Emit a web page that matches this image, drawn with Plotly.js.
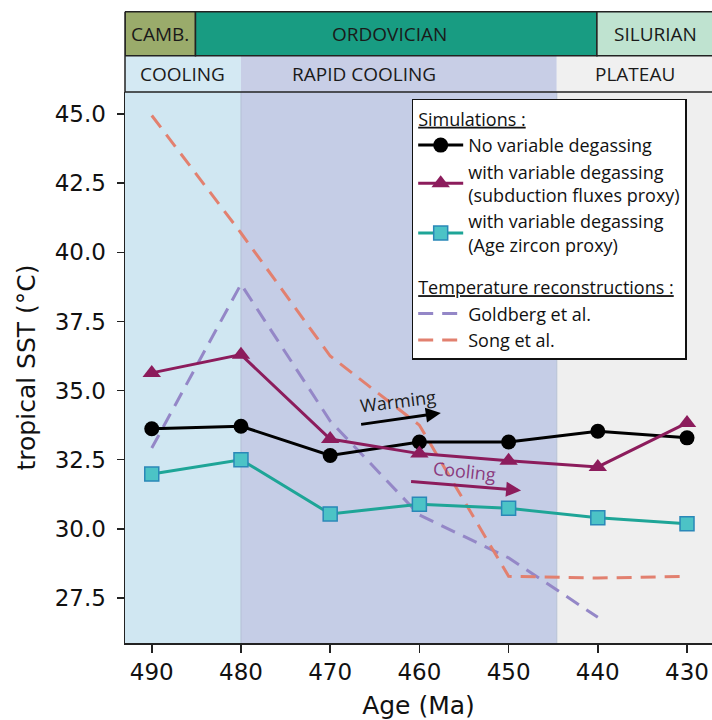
<!DOCTYPE html>
<html>
<head>
<meta charset="utf-8">
<script src="https://cdn.plot.ly/plotly-3.0.1.min.js"></script>
<style>
html,body{margin:0;padding:0;background:#fff;}
#chart{width:712px;height:720px;}
</style>
</head>
<body>
<div id="chart"></div>
<script>
// ---- data ----
const ages = [490, 480, 470, 460, 450, 440, 430];
const noDegassing = [33.62, 33.71, 32.65, 33.14, 33.14, 33.53, 33.29];
const subductionProxy = [35.64, 36.30, 33.25, 32.72, 32.46, 32.24, 33.83];
const zirconProxy = [31.98, 32.50, 30.54, 30.89, 30.74, 30.40, 30.18];
const goldbergAges = [490, 480, 470, 460, 450, 440];
const goldbergSST = [32.92, 38.85, 33.90, 30.50, 28.95, 26.80];
const songAges = [490, 480, 470, 460, 450, 440, 430];
const songSST = [44.95, 40.70, 36.25, 33.75, 28.28, 28.22, 28.28];

const yTicks = [27.5, 30.0, 32.5, 35.0, 37.5, 40.0, 42.5, 45.0];
const xTicks = [490, 480, 470, 460, 450, 440, 430];

const periodNames = ['CAMB.', 'ORDOVICIAN', 'SILURIAN'];
const periodStart = [493.0, 485.1, 440.1];
const periodEnd = [485.1, 440.1, 420.0];
const phaseNames = ['COOLING', 'RAPID COOLING', 'PLATEAU'];
const phaseStart = [493.0, 480.0, 444.6];
const phaseEnd = [480.0, 444.6, 420.0];

// ---- styles ----
const X_RANGE = [493.0, 427.2];
const Y_RANGE = [25.87, 45.80];
const periodFill = ['#9aab6b', '#189c82', '#bfe3d0'];
const phaseBandFill = ['#d4e9f3', '#c8cee6', '#f0f0f0'];
const phasePlotFill = ['#d0e7f2', '#c5cde6', '#efefef'];
const periodLabelX = [489.1, 463.4, 433.5];
const phaseLabelX = [486.6, 466.2, 435.8];

const MAG = '#8c1c5c';
const TEAL = '#1ea597';
const labFont = 'Open Sans, Lato, sans-serif';
const axFont = 'DejaVu Sans, sans-serif';

const traces = [
  {
    x: goldbergAges, y: goldbergSST, type: 'scatter', mode: 'lines',
    name: 'Goldberg et al.', legendgroup: 'rec', legendrank: 4,
    legendgrouptitle: {text: '<u>Temperature reconstructions :</u>'},
    line: {color: '#9487c7', width: 3, dash: '15px,9px'}
  },
  {
    x: songAges, y: songSST, type: 'scatter', mode: 'lines',
    name: 'Song et al.', legendgroup: 'rec', legendrank: 5,
    line: {color: '#e2806f', width: 3, dash: '15px,9px'}
  },
  {
    x: ages, y: noDegassing, type: 'scatter', mode: 'lines+markers',
    name: 'No variable degassing', legendgroup: 'sim', legendrank: 1,
    legendgrouptitle: {text: '<u>Simulations :</u>'},
    line: {color: '#000000', width: 3},
    marker: {symbol: 'circle', size: 15, color: '#000000'}
  },
  {
    x: ages, y: subductionProxy, type: 'scatter', mode: 'lines+markers',
    name: 'with variable degassing<br>(subduction fluxes proxy)', legendgroup: 'sim', legendrank: 2,
    line: {color: MAG, width: 3},
    marker: {symbol: 'triangle-up', size: 16, color: MAG}
  },
  {
    x: ages, y: zirconProxy, type: 'scatter', mode: 'lines+markers',
    name: 'with variable degassing<br>(Age zircon proxy)', legendgroup: 'sim', legendrank: 3,
    line: {color: TEAL, width: 3},
    marker: {symbol: 'square', size: 14, color: '#4cc3c6', line: {color: '#2a88b8', width: 1.5}}
  }
];

const shapes = [];
const annotations = [];

// plot-area background regions
phaseNames.forEach((n, i) => {
  shapes.push({type: 'rect', xref: 'x', yref: 'paper', x0: phaseStart[i], x1: phaseEnd[i], y0: 0, y1: 1,
    fillcolor: phasePlotFill[i], line: {width: 0}, layer: 'below'});
});
[480.0, 444.6].forEach(v => {
  shapes.push({type: 'line', xref: 'x', yref: 'paper', x0: v, x1: v, y0: 0, y1: 1,
    line: {color: '#b4c0d4', width: 1}, layer: 'below'});
});
// phase band (above plot)
phaseNames.forEach((n, i) => {
  shapes.push({type: 'rect', xref: 'x', yref: 'paper', x0: phaseStart[i], x1: phaseEnd[i], y0: 1.0, y1: 1.0659,
    fillcolor: phaseBandFill[i], line: {width: 0}});
  annotations.push({xref: 'x', yref: 'paper', x: phaseLabelX[i], y: 1.0332, text: n, showarrow: false,
    font: {family: labFont, size: 19, color: '#1a1a1a'}, xanchor: 'center', yanchor: 'middle'});
});
// period band
periodNames.forEach((n, i) => {
  shapes.push({type: 'rect', xref: 'x', yref: 'paper', x0: periodStart[i], x1: periodEnd[i], y0: 1.0659, y1: 1.1457,
    fillcolor: periodFill[i], line: {color: '#222', width: 1.5}});
  annotations.push({xref: 'x', yref: 'paper', x: periodLabelX[i], y: 1.1058, text: n, showarrow: false,
    font: {family: labFont, size: 19, color: '#1a1a1a'}, xanchor: 'center', yanchor: 'middle'});
});
shapes.push({type: 'line', xref: 'paper', yref: 'paper', x0: 0, x1: 1, y0: 1, y1: 1, line: {color: '#222', width: 1.5}});
shapes.push({type: 'line', xref: 'paper', yref: 'paper', x0: 0, x1: 0, y0: 1, y1: 1.1457, line: {color: '#222', width: 1.5}});

// Warming / Cooling arrows
annotations.push({xref: 'x', yref: 'y', axref: 'x', ayref: 'y', x: 457.6, y: 34.19, ax: 466.7, ay: 33.77,
  text: '', showarrow: true, arrowhead: 2, arrowsize: 1, arrowwidth: 3, arrowcolor: '#000', standoff: 0});
annotations.push({xref: 'x', yref: 'y', x: 462.45, y: 34.61, text: 'Warming', showarrow: false, textangle: -7,
  font: {family: labFont, size: 18, color: '#1a1a1a'}});
annotations.push({xref: 'x', yref: 'y', axref: 'x', ayref: 'y', x: 448.6, y: 31.39, ax: 461.1, ay: 31.72,
  text: '', showarrow: true, arrowhead: 2, arrowsize: 1, arrowwidth: 3, arrowcolor: MAG, standoff: 0});
annotations.push({xref: 'x', yref: 'y', x: 454.9, y: 32.08, text: 'Cooling', showarrow: false, textangle: 6,
  font: {family: labFont, size: 18, color: '#8a3a7e'}});

const layout = {
  width: 712, height: 720,
  margin: {l: 125, r: 0, t: 92, b: 77, pad: 0},
  paper_bgcolor: '#ffffff',
  plot_bgcolor: '#ffffff',
  showlegend: true,
  legend: {
    x: 0.4884, y: 0.9873, xanchor: 'left', yanchor: 'top',
    bgcolor: '#ffffff', bordercolor: '#111', borderwidth: 1.5,
    font: {family: labFont, size: 18, color: '#111'},
    grouptitlefont: {family: labFont, size: 18, color: '#111'},
    traceorder: 'grouped', tracegroupgap: 16, itemwidth: 45
  },
  xaxis: {
    range: X_RANGE, tickvals: xTicks, ticktext: xTicks.map(String),
    showgrid: false, zeroline: false, showline: true, linecolor: '#222', linewidth: 1.5,
    ticks: 'outside', ticklen: 8, tickwidth: 1.5, tickcolor: '#222',
    tickfont: {family: axFont, size: 23, color: '#111'},
    title: {text: 'Age (Ma)', font: {family: axFont, size: 25, color: '#111'}, standoff: 12}
  },
  yaxis: {
    range: Y_RANGE, tickvals: yTicks, ticktext: yTicks.map(v => v.toFixed(1)),
    showgrid: false, zeroline: false, showline: true, linecolor: '#222', linewidth: 1.5,
    ticks: 'outside', ticklen: 7, tickwidth: 1.5, tickcolor: '#222', ticklabelstandoff: 6,
    tickfont: {family: axFont, size: 23, color: '#111'},
    title: {text: 'tropical SST (°C)', font: {family: axFont, size: 25, color: '#111'}, standoff: 12}
  },
  shapes: shapes,
  annotations: annotations
};

Plotly.newPlot('chart', traces, layout, {displayModeBar: false, staticPlot: true});
</script>
</body>
</html>
